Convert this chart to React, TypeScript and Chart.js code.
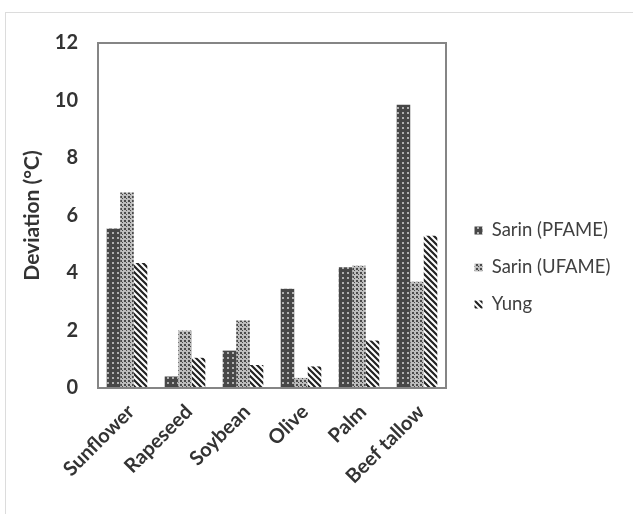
import React, { useEffect, useRef } from "react";
import { Chart, registerables } from "chart.js";

Chart.register(...registerables);

const categories = ["Sunflower", "Rapeseed", "Soybean", "Olive", "Palm", "Beef tallow"];
const sarinPFAME = [5.55, 0.4, 1.3, 3.45, 4.2, 9.85];
const sarinUFAME = [6.8, 2.0, 2.35, 0.35, 4.25, 3.7];
const yung = [4.35, 1.05, 0.8, 0.75, 1.65, 5.3];
const seriesNames = ["Sarin (PFAME)", "Sarin (UFAME)", "Yung"];
const yTicks = { min: 0, max: 12, step: 2 };
const yTitle = "Deviation (°C)";

function makePattern(kind: string): CanvasPattern | string {
  const c = document.createElement("canvas");
  const ctx = c.getContext("2d");
  if (!ctx) return "#666";
  if (kind === "pf") {
    c.width = 5; c.height = 5;
    ctx.fillStyle = "#474747";
    ctx.fillRect(0, 0, 5, 5);
    ctx.fillStyle = "#b0b0b0";
    ctx.fillRect(2, 2, 2, 2);
  } else if (kind === "uf") {
    c.width = 4; c.height = 4;
    ctx.fillStyle = "#bdbdbd";
    ctx.fillRect(0, 0, 4, 4);
    ctx.fillStyle = "#4a4a4a";
    ctx.fillRect(0, 0, 2, 2);
    ctx.fillRect(2, 2, 1, 1);
  } else {
    c.width = 6; c.height = 6;
    ctx.fillStyle = "#ffffff";
    ctx.fillRect(0, 0, 6, 6);
    ctx.strokeStyle = "#222222";
    ctx.lineWidth = 2.2;
    ctx.beginPath();
    ctx.moveTo(-1, -1); ctx.lineTo(7, 7);
    ctx.moveTo(-4, 2); ctx.lineTo(4, 10);
    ctx.moveTo(2, -4); ctx.lineTo(10, 4);
    ctx.stroke();
  }
  const p = ctx.createPattern(c, "repeat");
  return p || "#666";
}

const frame = {
  id: "frame",
  afterDatasetsDraw(chart: any) {
    const { ctx, chartArea } = chart;
    ctx.save();
    ctx.strokeStyle = "#858585";
    ctx.lineWidth = 2;
    ctx.strokeRect(chartArea.left, chartArea.top, chartArea.right - chartArea.left, chartArea.bottom - chartArea.top);
    ctx.restore();
  },
};

const legendPlace = {
  id: "legendPlace",
  beforeLayout(chart: any) {
    const lg = chart.legend;
    if (lg && !lg._wPatched) {
      const orig = lg.fit.bind(lg);
      lg.fit = function () {
        orig();
        this.width = 187;
      };
      lg._wPatched = true;
    }
  },
  afterLayout(chart: any) {
    const lg = chart.legend;
    if (!lg) return;
    lg.left += 10;
    lg.top -= 11;
    lg.bottom -= 11;
  },
};

export default function App() {
  const ref = useRef<HTMLCanvasElement | null>(null);
  useEffect(() => {
    if (!ref.current) return;
    const fills = [makePattern("pf"), makePattern("uf"), makePattern("yung")];
    const values = [sarinPFAME, sarinUFAME, yung];
    const chart = new Chart(ref.current, {
      type: "bar",
      data: {
        labels: categories,
        datasets: values.map((v, i) => ({
          label: seriesNames[i],
          data: v,
          backgroundColor: fills[i] as any,
          borderWidth: 0,
          categoryPercentage: 0.7,
          barPercentage: 1.0,
        })),
      },
      plugins: [frame, legendPlace],
      options: {
        animation: false,
        responsive: false,
        maintainAspectRatio: false,
        layout: { padding: { top: 43, left: 0, right: 0, bottom: 0 } },
        plugins: {
          tooltip: { enabled: false },
          legend: {
            position: "right",
            labels: {
              boxWidth: 8,
              boxHeight: 8,
              padding: 18.5,
              color: "#404040",
              font: { family: "Lato", size: 18.5 },
            },
          },
        },
        scales: {
          x: {
            grid: { display: false, drawTicks: false },
            border: { display: false },
            ticks: {
              color: "#333",
              font: { family: "Lato", size: 20, weight: "bold" },
              maxRotation: 45,
              minRotation: 45,
              padding: 12,
              labelOffset: 4,
            },
            afterFit(s: any) {
              s.height = 126;
            },
          },
          y: {
            min: yTicks.min,
            max: yTicks.max,
            grid: { display: false, drawTicks: false },
            border: { display: false },
            ticks: {
              stepSize: yTicks.step,
              color: "#333",
              padding: 20,
              font: { family: "Lato", size: 20, weight: "bold" },
            },
            title: {
              display: true,
              text: yTitle,
              color: "#333",
              font: { family: "Lato", size: 21, weight: "bold" },
              padding: { top: 20, bottom: 0 },
            },
            afterFit(s: any) {
              s.width = 98;
            },
          },
        },
      },
    });
    return () => chart.destroy();
  }, []);
  return (
    <div style={{ position: "absolute", left: 0, top: 0, width: 633, height: 514, background: "#fff", overflow: "hidden" }}>
      <div style={{ position: "absolute", left: 5, top: 12, width: 640, height: 520, border: "1px solid #dcdcdc" }} />
      <canvas ref={ref} width={633} height={514} style={{ position: "absolute", left: 0, top: 0, width: 633, height: 514 }} />
    </div>
  );
}
